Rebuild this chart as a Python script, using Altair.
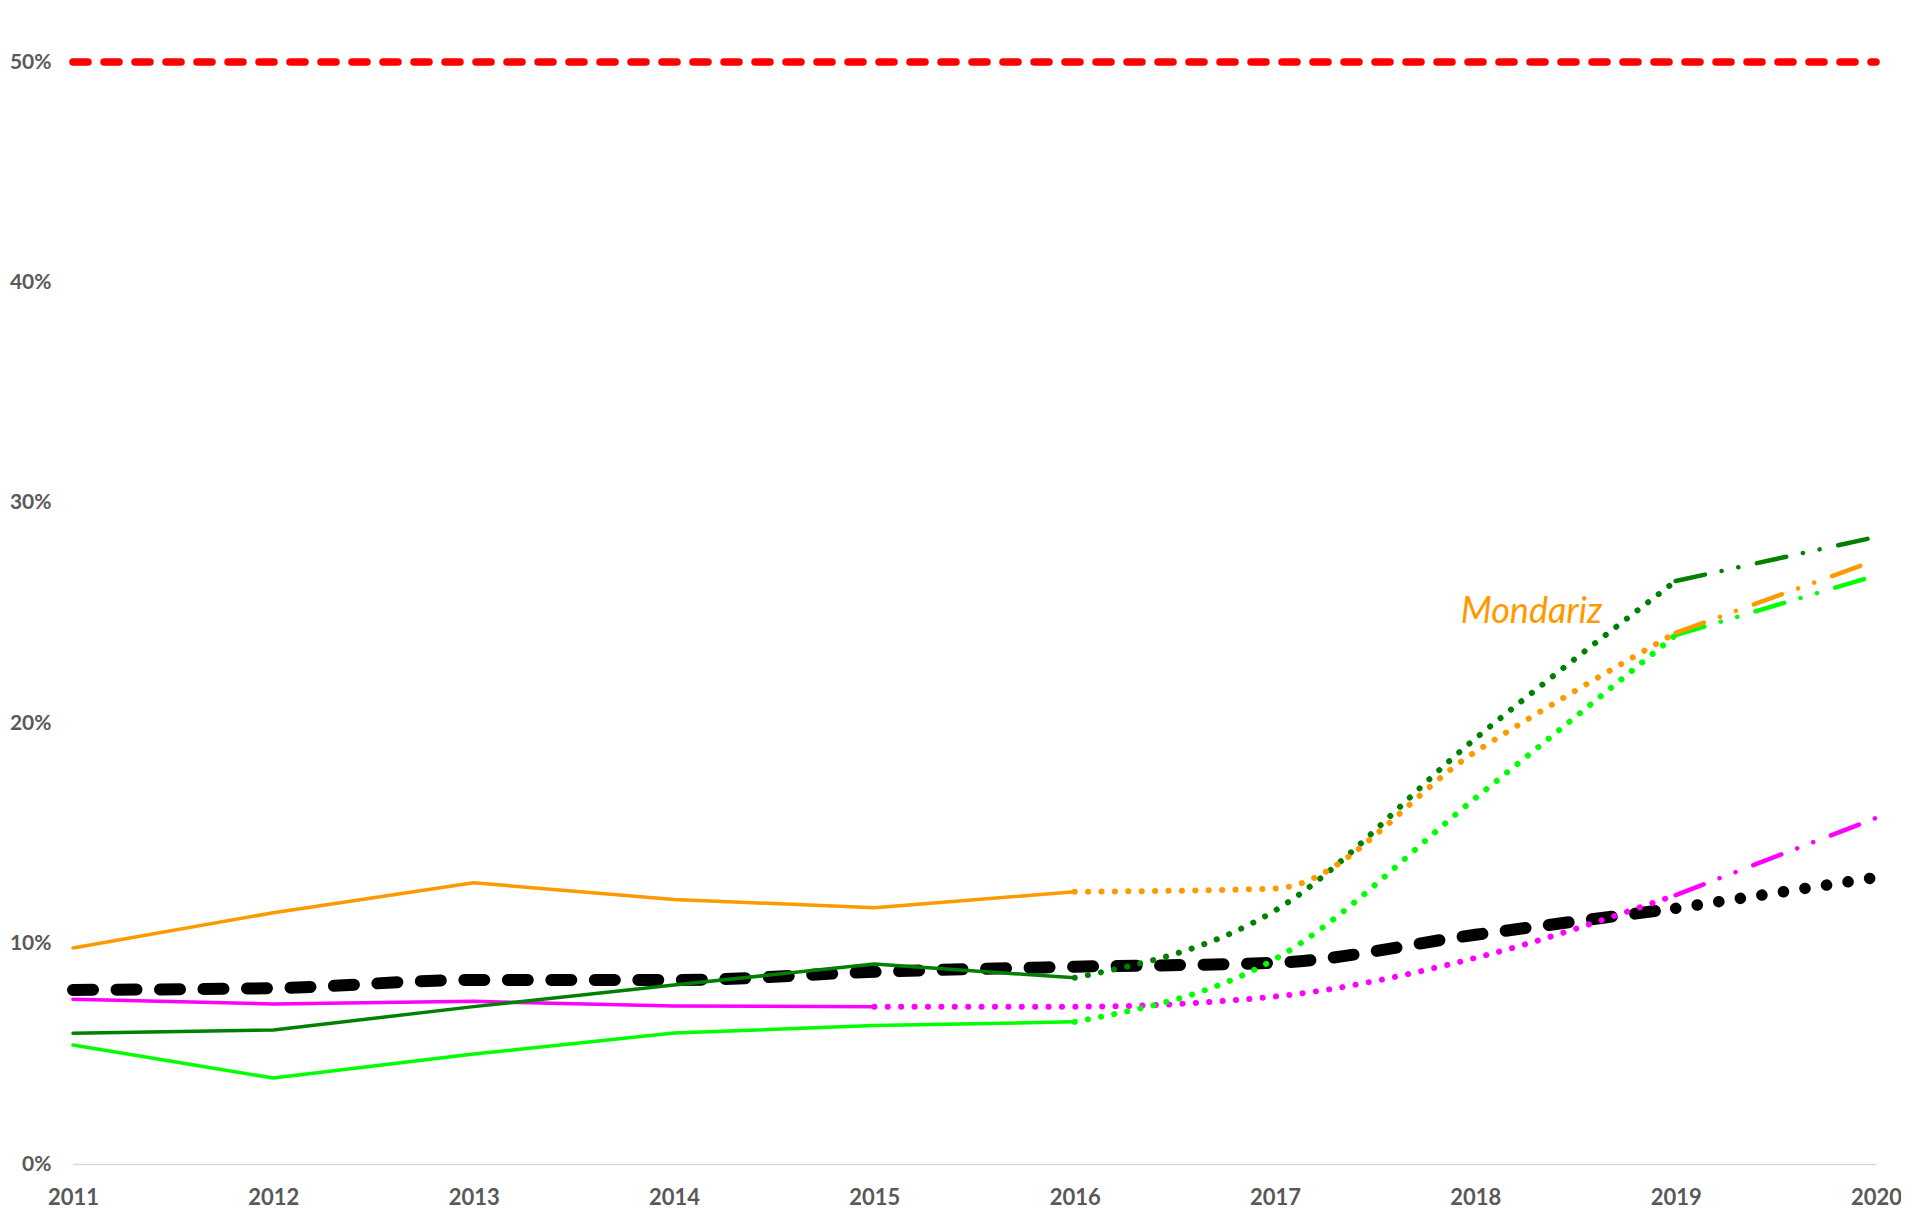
import altair as alt
import pandas as pd

years = [2011, 2012, 2013, 2014, 2015, 2016, 2017, 2018, 2019, 2020]
target = [50, 50, 50, 50, 50, 50, 50, 50, 50, 50]
black = [7.9, 7.98, 8.35, 8.35, 8.72, 8.95, 9.13, 10.4, 11.6, 13.0]
magenta = [7.47, 7.26, 7.38, 7.17, 7.14, 7.14, 7.6, 9.35, 12.2, 15.7]
light_green = [5.4, 3.9, 4.99, 5.94, 6.28, 6.45, 9.3, 16.6, 24.0, 26.7]
dark_green = [5.93, 6.08, 7.14, 8.12, 9.07, 8.45, 11.5, 19.3, 26.45, 28.45]
orange = [9.8, 11.4, 12.76, 12.0, 11.63, 12.35, 12.5, 18.7, 24.1, 27.4]

label_text = ["Mondariz"]
label_year = [2018.28]
label_value = [24.55]

series = {
    "target": (target, "#FF0000"),
    "black": (black, "#000000"),
    "magenta": (magenta, "#FF00FF"),
    "light_green": (light_green, "#00FF00"),
    "dark_green": (dark_green, "#008000"),
    "orange": (orange, "#FF9900"),
}

styles = {
    "solid": dict(strokeWidth=3.5, interpolate="linear", strokeCap="round"),
    "dotted": dict(strokeWidth=6, strokeDash=[0.1, 13.3], strokeCap="round", interpolate="monotone"),
    "dashdot": dict(strokeWidth=4.5, strokeDash=[30, 17, 0.1, 17, 0.1, 19], strokeCap="round", interpolate="linear"),
    "black_dash": dict(strokeWidth=12, strokeDash=[20, 23.5], strokeCap="round", interpolate="monotone"),
    "black_dot": dict(strokeWidth=11.5, strokeDash=[0.1, 21.7], strokeCap="round", interpolate="linear"),
    "red_dash": dict(strokeWidth=7.5, strokeDash=[15, 16], strokeCap="round", interpolate="linear"),
}

# (series, first year, last year, style) in drawing order
segments = [
    ("black", 2011, 2019, "black_dash"),
    ("black", 2019, 2020, "black_dot"),
    ("magenta", 2011, 2015, "solid"),
    ("magenta", 2015, 2019, "dotted"),
    ("magenta", 2019, 2020, "dashdot"),
    ("light_green", 2011, 2016, "solid"),
    ("light_green", 2016, 2019, "dotted"),
    ("light_green", 2019, 2020, "dashdot"),
    ("dark_green", 2011, 2016, "solid"),
    ("dark_green", 2016, 2019, "dotted"),
    ("dark_green", 2019, 2020, "dashdot"),
    ("orange", 2011, 2016, "solid"),
    ("orange", 2016, 2019, "dotted"),
    ("orange", 2019, 2020, "dashdot"),
    ("target", 2011, 2020, "red_dash"),
]

x_scale = alt.Scale(domain=[2011, 2020], nice=False, zero=False)
y_scale = alt.Scale(domain=[0, 50], nice=False)

x_axis = alt.Axis(
    values=years, format="d", title=None, grid=False, ticks=False, tickSize=0,
    domain=True, domainColor="#D9D9D9", domainWidth=1.5,
    labelFont="Lato", labelFontSize=22, labelFontWeight="bold", labelColor="#595959",
    labelPadding=23, labelFlush=False,
)
y_axis = alt.Axis(
    values=[0, 10, 20, 30, 40, 50], title=None, grid=False, ticks=False, tickSize=0,
    domain=False, labelExpr="datum.value + '%'",
    labelFont="Lato", labelFontSize=21, labelFontWeight="bold", labelColor="#595959",
    labelPadding=22,
)

layers = []
for name, y0, y1, style in segments:
    vals, color = series[name]
    rows = [{"year": y, "value": v} for y, v in zip(years, vals) if y0 <= y <= y1]
    df = pd.DataFrame(rows)
    st = styles[style]
    layers.append(
        alt.Chart(df).mark_line(color=color, strokeJoin="round", **st).encode(
            x=alt.X("year:Q", scale=x_scale, axis=x_axis),
            y=alt.Y("value:Q", scale=y_scale, axis=y_axis),
            order="year:Q",
        )
    )

label_df = pd.DataFrame({"year": label_year, "value": label_value, "text": label_text})
label = alt.Chart(label_df).mark_text(
    font="Lato", fontSize=36, fontStyle="italic", color="#FF9900",
    align="center", baseline="alphabetic",
).encode(
    x=alt.X("year:Q", scale=x_scale, axis=x_axis),
    y=alt.Y("value:Q", scale=y_scale, axis=y_axis),
    text="text:N",
)
layers.append(label)

chart = alt.layer(*layers).properties(
    width=1803, height=1102,
    autosize=alt.AutoSizeParams(type="none"),
    padding={"left": 65, "top": 54, "right": 25, "bottom": 49},
    background="white",
).configure_view(stroke=None)

chart.save("out.html", embed_options={"renderer": "svg", "actions": False})
